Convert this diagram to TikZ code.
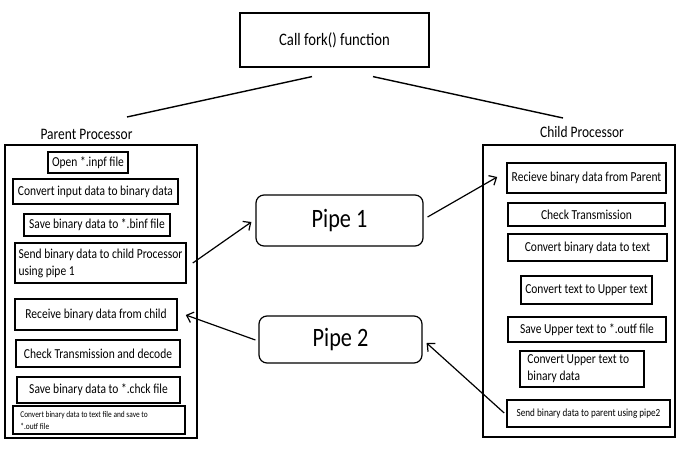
\documentclass[tikz,border=0pt]{standalone}
\usepackage{fontspec}
\setmainfont{Carlito}[FakeStretch=0.84]
\usetikzlibrary{arrows.meta,calc}
\begin{document}
\begin{tikzpicture}[x=1pt,y=-1pt,
  ibox/.style={draw,line width=1.6pt,inner sep=0pt,font=\fontsize{13.7}{17}\selectfont},
  itxt/.style={inner sep=0pt,align=left,anchor=west},
  obox/.style={draw,line width=1.2pt,inner sep=0pt},
  pipebox/.style={draw,line width=1.2pt,rounded corners=8pt,inner sep=0pt,font=\fontsize{26.5}{30}\selectfont},
  lbl/.style={inner sep=0pt,font=\fontsize{16}{19}\selectfont},
  arr/.style={line width=1.2pt,-{Straight Barb[length=6pt,width=11pt]}},
  ln/.style={line width=1.4pt}]
\useasboundingbox (0,0) rectangle (683,460);
\fill[white] (0,0) rectangle (683,460);
% top
\node[obox,minimum width=189pt,minimum height=54pt,font=\fontsize{17.5}{20}\selectfont] (fork) at (334.5,40) {Call fork() function};
% labels
\node[lbl] (plabel) at (86.5,134) {Parent Processor};
\node[lbl] (clabel) at (582,132) {Child Processor};
% outer boxes
\node[obox,minimum width=192pt,minimum height=293pt] (parent) at (101,291.5) {};
\node[obox,minimum width=192pt,minimum height=292pt] (child) at (579,291) {};
% parent inner
\node[ibox,minimum width=80pt,minimum height=21pt] (p1) at (88,162.5) {Open *.inpf file};
\node[ibox,minimum width=165pt,minimum height=25pt] (p2) at (95.5,191.5) {Convert input data to binary data};
\node[ibox,minimum width=146pt,minimum height=22pt] (p3) at (97,225) {Save binary data to *.binf file};
\node[ibox,minimum width=171pt,minimum height=40pt,align=left] (p4) at (100.5,263) {Send binary data to child Processor\\using pipe 1};
\node[ibox,minimum width=162pt,minimum height=31pt] (p5) at (96,314.5) {Receive binary data from child};
\node[ibox,minimum width=164pt,minimum height=27pt] (p6) at (98,353.5) {Check Transmission and decode};
\node[ibox,minimum width=163pt,minimum height=26pt] (p7) at (98.5,390) {Save binary data to *.chck file};
\node[ibox,minimum width=172pt,minimum height=28pt] (p8) at (99,420) {};
\node[itxt,font=\fontsize{8.8}{12}\selectfont] (p8t) at ($(p8.west)+(8,0)$) {Convert binary data to text file and save to\\*.outf file};
% child inner
\node[ibox,minimum width=159pt,minimum height=30pt] (c1) at (586.5,178) {Recieve binary data from Parent};
\node[ibox,minimum width=157pt,minimum height=23pt] (c2) at (586.5,214.5) {Check Transmission};
\node[ibox,minimum width=159pt,minimum height=27pt] (c3) at (587.5,247.5) {Convert binary data to text};
\node[ibox,minimum width=131pt,minimum height=28pt] (c4) at (586.5,290) {Convert text to Upper text};
\node[ibox,minimum width=158pt,minimum height=25pt] (c5) at (587,329.5) {Save Upper text to *.outf file};
\node[ibox,minimum width=124pt,minimum height=36pt] (c6) at (582,369) {};
\node[itxt,font=\fontsize{13.7}{17}\selectfont] (c6t) at ($(c6.west)+(8,0)$) {Convert Upper text to\\binary data};
\node[ibox,minimum width=163pt,minimum height=27pt,font=\fontsize{10.9}{13}\selectfont] (c7) at (588.5,413.5) {Send binary data to parent using pipe2};
% pipes
\node[pipebox,minimum width=167pt,minimum height=51pt] (pipe1) at (339.5,220.5) {Pipe 1};
\node[pipebox,minimum width=163pt,minimum height=47pt] (pipe2) at (340.5,339.5) {Pipe 2};
% fork lines
\coordinate (lend) at (127,117);
\coordinate (rend) at (563,118);
\draw[ln] ($(fork.south)+(-22.5,9)$) -- (lend);
\draw[ln] ($(fork.south)+(38.5,9)$) -- (rend);
% arrows
\draw[arr] ($(p4.east)+(6,0)$) -- ($(pipe1.west)+(-4,1.5)$);
\draw[arr] ($(pipe1.east)+(4,-3.5)$) -- ($(c1.west)+(-9,-1)$);
\draw[arr] ($(pipe2.west)+(-3,0.5)$) -- ($(p5.east)+(8,0.5)$);
\draw[arr] ($(c7.west)+(-2,-0.5)$) -- ($(pipe2.east)+(4,3.5)$);
\end{tikzpicture}
\end{document}
